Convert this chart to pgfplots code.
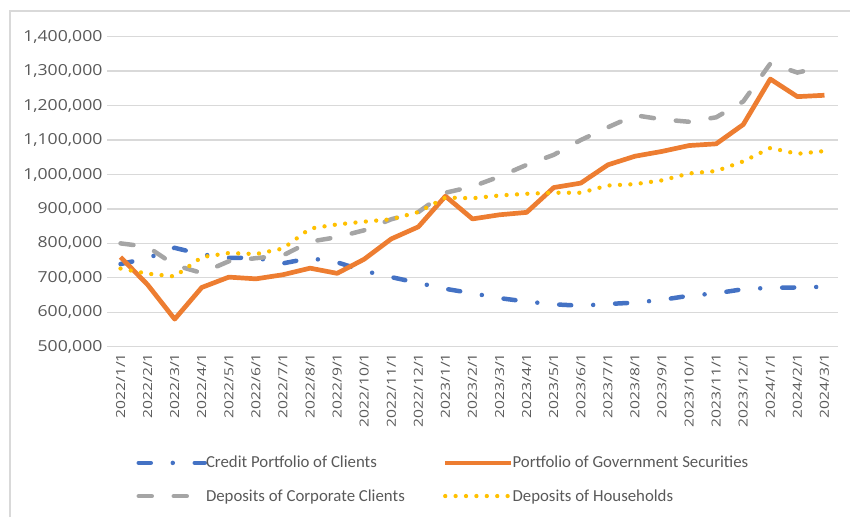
\documentclass[border=0pt]{standalone}
\usepackage{fontspec}
\setmainfont{Carlito}
\newfontfamily\ytickfont{Open Sans}[FakeStretch=1.16]
\newfontfamily\xtickfont{Open Sans}[FakeStretch=1.25]
\usepackage{pgfplots}
\pgfplotsset{compat=1.18}
\definecolor{cblue}{HTML}{4472C4}
\definecolor{corange}{HTML}{ED7D31}
\definecolor{cgray}{HTML}{A5A5A5}
\definecolor{cyellow}{HTML}{FFC000}
\definecolor{gridc}{HTML}{D9D9D9}
\definecolor{txt}{HTML}{595959}
\pgfplotstableread{
i blue orange gray yellow
0 740000 760000 800000 727000
1 757000 680000 790000 712000
2 787000 580000 737000 704000
3 768000 672000 714000 760000
4 758000 702000 748000 772000
5 758000 697000 757000 769000
6 742000 709000 765000 785000
7 757000 728000 805000 843000
8 745000 713000 818000 855000
9 720000 754000 838000 863000
10 702000 813000 870000 870000
11 685000 848000 891000 891000
12 668000 937000 947000 933000
13 655000 871000 965000 931000
14 641000 883000 994000 939000
15 631000 890000 1028000 944000
16 623000 962000 1057000 947000
17 619000 975000 1100000 947000
18 624000 1028000 1137000 968000
19 628000 1053000 1172000 972000
20 636000 1067000 1160000 983000
21 648000 1084000 1153000 1003000
22 655000 1089000 1166000 1010000
23 667000 1145000 1212000 1038000
24 671000 1277000 1322000 1077000
25 672000 1226000 1296000 1060000
26 674000 1230000 1313000 1068000
}\datatable
\begin{document}
\begin{tikzpicture}
\useasboundingbox (0,0) rectangle (850pt,517pt);
\draw[gridc, line width=1.2pt] (10pt,0) -- (10pt,506pt) -- (850pt,506pt);
\begin{axis}[
  at={(107pt,170.3pt)}, anchor=south west,
  width=731pt, height=310pt, scale only axis,
  xmin=-0.5, xmax=26.5, ymin=500000, ymax=1400000,
  xtick={0,1,2,3,4,5,6,7,8,9,10,11,12,13,14,15,16,17,18,19,20,21,22,23,24,25,26},
  xticklabels={2022/1/1,2022/2/1,2022/3/1,2022/4/1,2022/5/1,2022/6/1,2022/7/1,2022/8/1,2022/9/1,2022/10/1,2022/11/1,2022/12/1,2023/1/1,2023/2/1,2023/3/1,2023/4/1,2023/5/1,2023/6/1,2023/7/1,2023/8/1,2023/9/1,2023/10/1,2023/11/1,2023/12/1,2024/1/1,2024/2/1,2024/3/1},
  ytick={500000,600000,700000,800000,900000,1000000,1100000,1200000,1300000,1400000},
  scaled y ticks=false,
  /pgf/number format/assume math mode=true,
  yticklabel={\ytickfont\fontsize{15.2}{17}\selectfont\pgfmathprintnumber[fixed,precision=0,1000 sep={,},assume math mode=true]{\tick}},
  y tick label style={text=txt, xshift=-1pt},
  x tick label style={rotate=90, anchor=east, font=\xtickfont\fontsize{12.5}{14}\selectfont, text=txt},
  xticklabel shift=3pt,
  axis line style={draw=none},
  major tick length=0pt,
  ymajorgrids,
  major grid style={gridc, line width=1.3pt},
  legend columns=2,
  legend cell align=left,
  legend style={draw=none, fill=none, at={(0.036,-0.34)}, anchor=north west,
    font=\fontsize{16.8}{18}\selectfont, text=txt,
    /tikz/every even column/.append style={column sep=36pt},
    row sep=16pt},
  legend image code/.code={\draw[#1] (0pt,0pt) -- (66pt,0pt);},
]
\addplot[cblue, line width=4.5pt, line cap=round, dash pattern=on 12pt off 22pt on 0pt off 22pt] table[x=i, y=blue] {\datatable};
\addlegendentry{\hspace*{-3pt}Credit Portfolio of Clients}
\addplot[corange, line width=4.7pt, line join=round] table[x=i, y=orange] {\datatable};
\addlegendentry{\hspace*{-3pt}Portfolio of Government Securities}
\addplot[cgray, line width=4.5pt, line cap=round, dash pattern=on 13pt off 22pt] table[x=i, y=gray] {\datatable};
\addlegendentry{\hspace*{-3pt}Deposits of Corporate Clients}
\addplot[cyellow, line width=4.3pt, line cap=round, dash pattern=on 0pt off 10.4pt] table[x=i, y=yellow] {\datatable};
\addlegendentry{\hspace*{-3pt}Deposits of Households}
\end{axis}
\end{tikzpicture}
\end{document}
